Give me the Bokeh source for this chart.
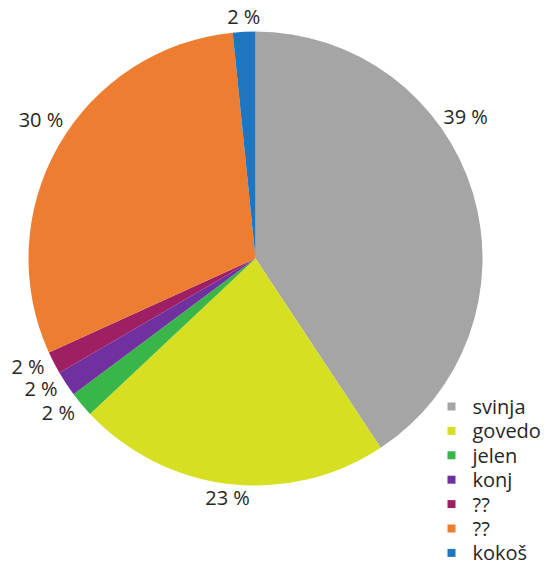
import numpy as np
from bokeh.plotting import figure
from bokeh.models import ColumnDataSource
from bokeh.embed import file_html
from bokeh.resources import INLINE
from bokeh.core.properties import value

# ---- data ----
categories = ["svinja", "govedo", "jelen", "konj", "??", "??", "kokoš"]
shares = [40.7, 22.3, 1.8, 1.8, 1.6, 30.2, 1.6]          # slice sizes (%), clockwise from 12 o'clock
labels = ["39 %", "23 %", "2 %", "2 %", "2 %", "30 %", "2 %"]
colors = ["#A5A5A5", "#D7DF23", "#3AB54A", "#7030A0", "#9E1F63", "#ED7D31", "#1F75BE"]

# ---- layout ----
R = 227
label_nudge_deg = [-17.3, 0.0, 2.0, 2.2, 1.9, 3.0, 0.1]
label_radius = [253.5, 240.5, 250.0, 251.0, 252.0, 255.5, 242.3]
FONT = value("Open Sans")
TXT = "#262626"
FS = "20px"

sh = np.array(shares, dtype=float)
frac = sh / sh.sum()
theta_end = np.cumsum(frac) * 2 * np.pi          # clockwise from top
theta_start = theta_end - frac * 2 * np.pi
start_angle = np.pi / 2 - theta_start
end_angle = np.pi / 2 - theta_end
mid = (theta_start + theta_end) / 2
lt = mid + np.radians(label_nudge_deg)
lr = np.array(label_radius)
lx = lr * np.sin(lt)
ly = lr * np.cos(lt)

src = ColumnDataSource(dict(start=start_angle, end=end_angle, color=colors,
                            cat=categories, lx=lx, ly=ly, lab=labels))

p = figure(width=547, height=570, x_range=(-255, 292), y_range=(-312, 258),
           output_backend="svg", toolbar_location=None, min_border=0)
p.axis.visible = False
p.grid.visible = False
p.outline_line_color = None
p.background_fill_color = "white"
p.border_fill_color = "white"

p.wedge(x=0, y=0, radius=R, start_angle="start", end_angle="end", direction="clock",
        fill_color="color", line_color=None, source=src)

p.text(x="lx", y="ly", text="lab", source=src, text_font=FONT, text_font_size=FS,
       text_align="center", text_baseline="middle", text_color=TXT)

# ---- legend ----
row0_Y = 406
row_step = 24.4
leg_y = [258 - (row0_Y + i * row_step) for i in range(len(categories))]
leg_src = ColumnDataSource(dict(y=leg_y, color=colors, cat=categories))
p.scatter(x=196, y="y", marker="square", size=8, fill_color="color", line_color=None, source=leg_src)
p.text(x=217, y="y", text="cat", source=leg_src, text_font=FONT, text_font_size=FS,
       text_align="left", text_baseline="middle", text_color=TXT)

open("out.html", "w").write(file_html(p, INLINE))
